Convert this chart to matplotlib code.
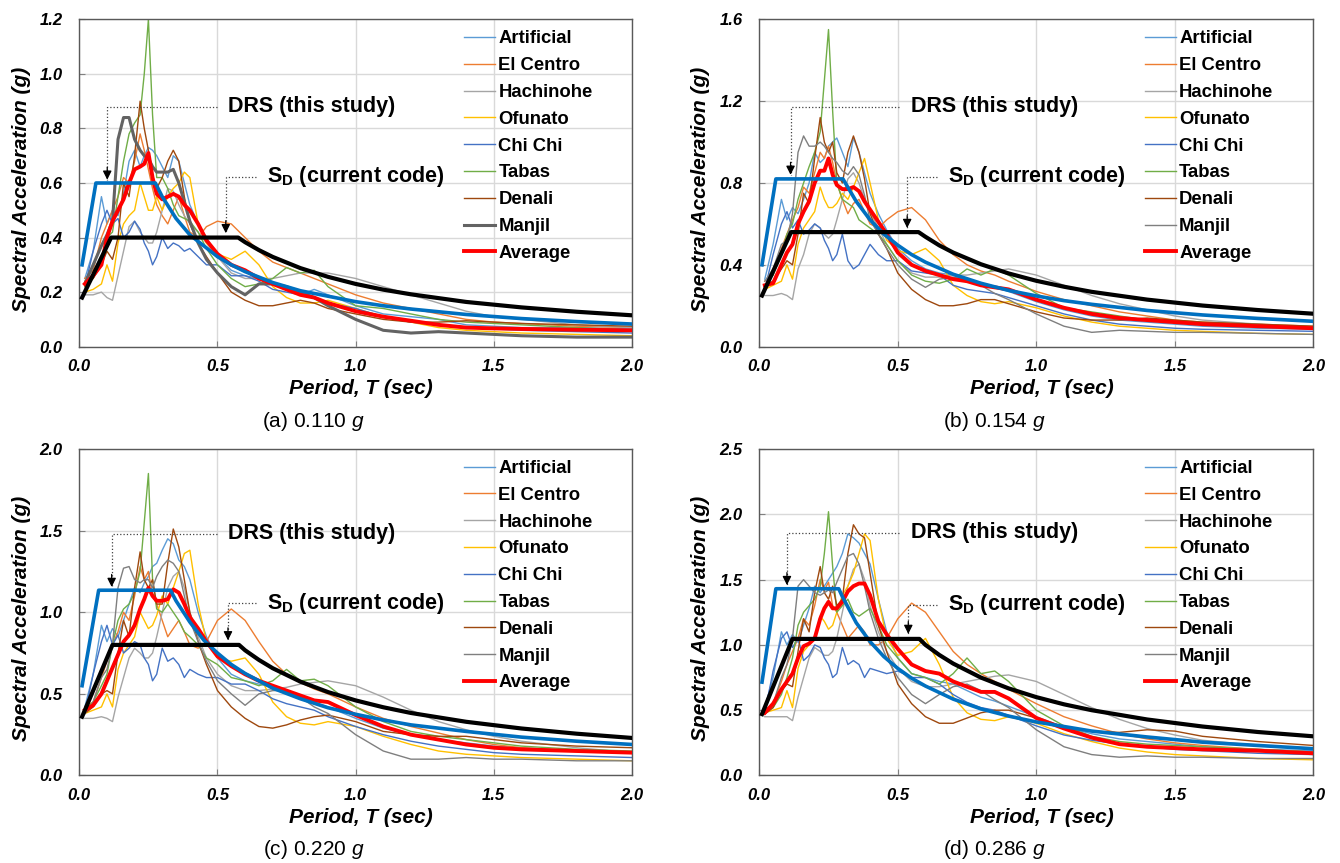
import matplotlib
matplotlib.use("Agg")
import matplotlib.pyplot as plt
from matplotlib.ticker import MultipleLocator, FormatStrFormatter

plt.rcParams['font.family'] = ['Liberation Sans', 'DejaVu Sans']
plt.rcParams['mathtext.fontset'] = 'custom'
plt.rcParams['mathtext.rm'] = 'Liberation Sans'
plt.rcParams['mathtext.it'] = 'Liberation Sans:italic'
plt.rcParams['mathtext.bf'] = 'Liberation Sans:bold'

# period grid shared by all ground-motion spectra (sec)
period = [0.02, 0.05, 0.08, 0.10, 0.12, 0.14, 0.16, 0.18, 0.20, 0.22,
          0.235, 0.25, 0.265, 0.28, 0.30, 0.32, 0.34, 0.36, 0.38, 0.40,
          0.43, 0.46, 0.50, 0.55, 0.60, 0.65, 0.70, 0.75, 0.80, 0.85,
          0.90, 1.00, 1.10, 1.20, 1.30, 1.40, 1.50, 1.60, 1.80, 2.00]

record_names = ['Artificial', 'El Centro', 'Hachinohe', 'Ofunato',
                'Chi Chi', 'Tabas', 'Denali', 'Manjil']

# ---- (a) 0.110 g ----
artificial_a = [0.25, 0.35, 0.55, 0.45, 0.50, 0.48, 0.56, 0.68, 0.72, 0.66, 0.70, 0.73, 0.72, 0.70, 0.66, 0.62, 0.70, 0.68, 0.60, 0.52,
                0.45, 0.40, 0.33, 0.28, 0.26, 0.25, 0.23, 0.21, 0.19, 0.21, 0.19, 0.15, 0.12, 0.11, 0.10, 0.08, 0.075, 0.07, 0.07, 0.065]
elcentro_a = [0.25, 0.28, 0.40, 0.45, 0.50, 0.55, 0.62, 0.60, 0.68, 0.78, 0.72, 0.65, 0.58, 0.52, 0.48, 0.45, 0.50, 0.55, 0.48, 0.42,
              0.40, 0.44, 0.46, 0.45, 0.40, 0.35, 0.31, 0.29, 0.27, 0.25, 0.23, 0.19, 0.16, 0.14, 0.12, 0.10, 0.09, 0.085, 0.075, 0.07]
hachinohe_a = [0.19, 0.19, 0.20, 0.18, 0.17, 0.26, 0.35, 0.44, 0.46, 0.42, 0.40, 0.38, 0.38, 0.42, 0.50, 0.58, 0.57, 0.52, 0.48, 0.45,
               0.42, 0.38, 0.33, 0.27, 0.25, 0.25, 0.25, 0.26, 0.27, 0.27, 0.27, 0.25, 0.22, 0.19, 0.16, 0.13, 0.11, 0.10, 0.08, 0.07]
ofunato_a = [0.20, 0.21, 0.23, 0.30, 0.24, 0.38, 0.45, 0.48, 0.50, 0.60, 0.55, 0.50, 0.50, 0.55, 0.50, 0.55, 0.58, 0.60, 0.64, 0.62,
             0.45, 0.38, 0.34, 0.32, 0.35, 0.30, 0.22, 0.18, 0.16, 0.16, 0.17, 0.14, 0.11, 0.09, 0.07, 0.06, 0.055, 0.05, 0.045, 0.04]
chichi_a = [0.22, 0.35, 0.45, 0.50, 0.45, 0.47, 0.40, 0.42, 0.46, 0.43, 0.38, 0.35, 0.30, 0.33, 0.40, 0.36, 0.38, 0.37, 0.35, 0.36,
            0.33, 0.30, 0.30, 0.26, 0.26, 0.24, 0.21, 0.20, 0.19, 0.18, 0.16, 0.14, 0.11, 0.09, 0.08, 0.07, 0.065, 0.06, 0.055, 0.05]
tabas_a = [0.22, 0.25, 0.32, 0.40, 0.42, 0.55, 0.68, 0.78, 0.82, 0.85, 1.00, 1.20, 0.85, 0.62, 0.62, 0.58, 0.52, 0.48, 0.47, 0.46,
           0.42, 0.36, 0.30, 0.25, 0.22, 0.23, 0.25, 0.29, 0.27, 0.28, 0.22, 0.15, 0.14, 0.12, 0.10, 0.09, 0.085, 0.08, 0.07, 0.06]
denali_a = [0.24, 0.25, 0.30, 0.35, 0.32, 0.40, 0.60, 0.55, 0.70, 0.90, 0.80, 0.72, 0.60, 0.58, 0.62, 0.68, 0.72, 0.68, 0.55, 0.45,
            0.38, 0.33, 0.27, 0.20, 0.17, 0.15, 0.15, 0.16, 0.17, 0.16, 0.14, 0.12, 0.10, 0.09, 0.09, 0.095, 0.09, 0.085, 0.08, 0.075]
manjil_a = [0.23, 0.30, 0.37, 0.41, 0.46, 0.76, 0.84, 0.84, 0.76, 0.72, 0.70, 0.69, 0.66, 0.64, 0.64, 0.64, 0.65, 0.60, 0.53, 0.46,
            0.38, 0.32, 0.27, 0.22, 0.19, 0.23, 0.23, 0.22, 0.20, 0.18, 0.15, 0.10, 0.06, 0.05, 0.055, 0.05, 0.045, 0.04, 0.035, 0.035]
average_a = [0.23, 0.26, 0.30, 0.40, 0.46, 0.50, 0.54, 0.60, 0.65, 0.66, 0.67, 0.71, 0.62, 0.56, 0.54, 0.55, 0.56, 0.55, 0.52, 0.50,
             0.45, 0.39, 0.34, 0.30, 0.28, 0.25, 0.23, 0.21, 0.19, 0.18, 0.16, 0.13, 0.11, 0.095, 0.08, 0.07, 0.067, 0.065, 0.062, 0.06]
drs_t_a = [0.01, 0.06, 0.275, 0.30, 0.35, 0.40, 0.45, 0.50, 0.55, 0.60, 0.70, 0.80, 0.90, 1.00, 1.10, 1.20, 1.40, 1.60, 1.80, 2.00]
drs_sa_a = [0.30, 0.60, 0.60, 0.55, 0.47, 0.41, 0.37, 0.33, 0.30, 0.275, 0.235, 0.205, 0.185, 0.165, 0.15, 0.138, 0.118, 0.103, 0.092, 0.083]
sd_t_a = [0.01, 0.115, 0.575, 0.60, 0.65, 0.70, 0.80, 0.90, 1.00, 1.10, 1.20, 1.40, 1.60, 1.80, 2.00]
sd_sa_a = [0.18, 0.40, 0.40, 0.383, 0.354, 0.329, 0.288, 0.256, 0.23, 0.209, 0.192, 0.164, 0.144, 0.128, 0.115]

# ---- (b) 0.154 g ----
artificial_b = [0.33, 0.50, 0.72, 0.62, 0.68, 0.65, 0.72, 0.80, 0.95, 0.90, 0.92, 0.98, 1.00, 1.02, 0.95, 0.88, 1.02, 0.95, 0.85, 0.75,
                0.65, 0.57, 0.48, 0.42, 0.38, 0.36, 0.35, 0.32, 0.30, 0.29, 0.27, 0.22, 0.18, 0.15, 0.13, 0.12, 0.11, 0.10, 0.09, 0.085]
elcentro_b = [0.32, 0.35, 0.48, 0.55, 0.62, 0.68, 0.78, 0.75, 0.85, 0.95, 0.92, 0.98, 0.90, 0.80, 0.72, 0.65, 0.70, 0.72, 0.66, 0.60,
              0.58, 0.62, 0.66, 0.68, 0.62, 0.52, 0.45, 0.40, 0.37, 0.35, 0.32, 0.27, 0.23, 0.20, 0.17, 0.15, 0.13, 0.12, 0.11, 0.10]
hachinohe_b = [0.25, 0.25, 0.26, 0.25, 0.23, 0.38, 0.45, 0.55, 0.60, 0.58, 0.55, 0.53, 0.55, 0.62, 0.72, 0.82, 0.85, 0.80, 0.72, 0.66,
               0.58, 0.50, 0.42, 0.36, 0.34, 0.34, 0.35, 0.35, 0.36, 0.37, 0.38, 0.35, 0.30, 0.25, 0.21, 0.18, 0.15, 0.13, 0.11, 0.09]
ofunato_b = [0.28, 0.30, 0.32, 0.40, 0.33, 0.50, 0.58, 0.62, 0.66, 0.78, 0.72, 0.68, 0.68, 0.70, 0.75, 0.72, 0.78, 0.85, 0.92, 0.80,
             0.62, 0.52, 0.47, 0.45, 0.48, 0.42, 0.30, 0.25, 0.22, 0.21, 0.22, 0.19, 0.15, 0.12, 0.10, 0.09, 0.08, 0.075, 0.065, 0.06]
chichi_b = [0.28, 0.45, 0.60, 0.66, 0.58, 0.62, 0.55, 0.57, 0.60, 0.58, 0.52, 0.48, 0.42, 0.45, 0.55, 0.42, 0.38, 0.40, 0.45, 0.50,
            0.45, 0.42, 0.42, 0.37, 0.36, 0.35, 0.30, 0.28, 0.27, 0.26, 0.24, 0.20, 0.16, 0.13, 0.11, 0.10, 0.09, 0.085, 0.08, 0.075]
tabas_b = [0.30, 0.35, 0.45, 0.55, 0.60, 0.72, 0.80, 0.88, 0.95, 1.05, 1.30, 1.55, 1.15, 0.80, 0.72, 0.70, 0.68, 0.62, 0.60, 0.58,
           0.55, 0.50, 0.42, 0.35, 0.32, 0.31, 0.33, 0.38, 0.35, 0.38, 0.35, 0.26, 0.19, 0.17, 0.15, 0.13, 0.12, 0.11, 0.10, 0.09]
denali_b = [0.30, 0.32, 0.38, 0.42, 0.40, 0.55, 0.75, 0.70, 0.92, 1.12, 1.00, 0.95, 1.00, 0.85, 0.80, 0.95, 1.03, 0.95, 0.82, 0.65,
            0.55, 0.48, 0.36, 0.28, 0.23, 0.20, 0.20, 0.21, 0.23, 0.23, 0.21, 0.17, 0.14, 0.13, 0.13, 0.14, 0.13, 0.12, 0.11, 0.10]
manjil_b = [0.32, 0.38, 0.50, 0.52, 0.65, 0.95, 1.03, 0.98, 0.98, 1.00, 0.98, 0.95, 0.92, 0.90, 0.86, 0.84, 0.88, 0.84, 0.74, 0.62,
            0.55, 0.48, 0.40, 0.33, 0.29, 0.33, 0.34, 0.33, 0.30, 0.26, 0.23, 0.16, 0.10, 0.07, 0.08, 0.075, 0.07, 0.07, 0.065, 0.06]
average_b = [0.30, 0.31, 0.40, 0.46, 0.50, 0.60, 0.66, 0.71, 0.80, 0.86, 0.86, 0.92, 0.84, 0.79, 0.77, 0.77, 0.78, 0.76, 0.71, 0.67,
             0.61, 0.55, 0.46, 0.40, 0.37, 0.35, 0.33, 0.32, 0.30, 0.29, 0.28, 0.23, 0.19, 0.16, 0.14, 0.13, 0.12, 0.11, 0.10, 0.09]
drs_t_b = [0.01, 0.06, 0.302, 0.35, 0.40, 0.45, 0.50, 0.55, 0.60, 0.70, 0.80, 0.90, 1.00, 1.10, 1.20, 1.40, 1.60, 1.80, 2.00]
drs_sa_b = [0.40, 0.82, 0.82, 0.71, 0.62, 0.55, 0.496, 0.45, 0.413, 0.354, 0.31, 0.275, 0.248, 0.225, 0.207, 0.177, 0.155, 0.138, 0.124]
sd_t_b = [0.01, 0.115, 0.575, 0.60, 0.65, 0.70, 0.80, 0.90, 1.00, 1.10, 1.20, 1.40, 1.60, 1.80, 2.00]
sd_sa_b = [0.25, 0.56, 0.56, 0.537, 0.495, 0.46, 0.403, 0.358, 0.322, 0.293, 0.268, 0.23, 0.201, 0.179, 0.161]

# ---- (c) 0.220 g ----
artificial_c = [0.42, 0.62, 0.92, 0.82, 0.90, 0.85, 0.95, 1.05, 1.15, 1.12, 1.18, 1.22, 1.28, 1.30, 1.38, 1.45, 1.42, 1.32, 1.28, 1.20,
                1.00, 0.85, 0.72, 0.62, 0.58, 0.56, 0.54, 0.50, 0.47, 0.45, 0.42, 0.35, 0.29, 0.25, 0.22, 0.20, 0.18, 0.17, 0.15, 0.14]
elcentro_c = [0.42, 0.45, 0.60, 0.70, 0.80, 0.88, 1.00, 0.95, 1.10, 1.28, 1.20, 1.25, 1.10, 1.05, 0.95, 0.85, 0.90, 0.95, 0.88, 0.80,
              0.78, 0.82, 0.95, 1.02, 0.95, 0.82, 0.70, 0.62, 0.57, 0.53, 0.50, 0.42, 0.35, 0.30, 0.26, 0.22, 0.19, 0.17, 0.15, 0.14]
hachinohe_c = [0.35, 0.35, 0.36, 0.35, 0.33, 0.48, 0.60, 0.72, 0.78, 0.75, 0.72, 0.72, 0.75, 0.85, 1.00, 1.15, 1.22, 1.25, 1.15, 1.00,
               0.85, 0.72, 0.62, 0.55, 0.52, 0.52, 0.53, 0.54, 0.56, 0.57, 0.58, 0.55, 0.48, 0.40, 0.33, 0.28, 0.24, 0.21, 0.17, 0.14]
ofunato_c = [0.38, 0.40, 0.42, 0.50, 0.42, 0.65, 0.75, 0.80, 0.85, 1.00, 0.95, 0.90, 0.92, 0.98, 1.10, 1.05, 1.15, 1.25, 1.36, 1.38,
             1.05, 0.82, 0.72, 0.70, 0.72, 0.62, 0.45, 0.36, 0.32, 0.31, 0.33, 0.30, 0.24, 0.19, 0.15, 0.13, 0.12, 0.11, 0.10, 0.09]
chichi_c = [0.38, 0.62, 0.82, 0.92, 0.80, 0.86, 0.75, 0.78, 0.82, 0.80, 0.72, 0.68, 0.58, 0.62, 0.78, 0.70, 0.72, 0.68, 0.60, 0.65,
            0.62, 0.60, 0.60, 0.56, 0.56, 0.52, 0.47, 0.44, 0.42, 0.40, 0.36, 0.30, 0.25, 0.21, 0.18, 0.16, 0.14, 0.13, 0.12, 0.11]
tabas_c = [0.40, 0.45, 0.55, 0.62, 0.80, 0.95, 1.02, 1.05, 1.12, 1.25, 1.55, 1.85, 1.20, 1.02, 1.00, 1.05, 1.00, 0.95, 0.88, 0.85,
           0.80, 0.72, 0.68, 0.60, 0.58, 0.55, 0.58, 0.65, 0.58, 0.59, 0.55, 0.42, 0.33, 0.27, 0.24, 0.22, 0.20, 0.18, 0.16, 0.15]
denali_c = [0.38, 0.42, 0.50, 0.52, 0.50, 0.75, 0.95, 0.85, 1.15, 1.37, 1.20, 1.15, 1.20, 1.05, 1.05, 1.30, 1.51, 1.40, 1.20, 1.00,
            0.82, 0.68, 0.52, 0.42, 0.35, 0.30, 0.29, 0.31, 0.34, 0.36, 0.37, 0.33, 0.27, 0.25, 0.24, 0.24, 0.22, 0.20, 0.18, 0.17]
manjil_c = [0.38, 0.45, 0.60, 0.65, 0.80, 1.15, 1.27, 1.28, 1.20, 1.18, 1.20, 1.20, 1.15, 1.22, 1.28, 1.32, 1.30, 1.25, 1.10, 0.95,
            0.82, 0.70, 0.58, 0.50, 0.43, 0.50, 0.52, 0.52, 0.48, 0.42, 0.38, 0.25, 0.15, 0.10, 0.10, 0.11, 0.10, 0.10, 0.09, 0.09]
average_c = [0.40, 0.43, 0.50, 0.58, 0.66, 0.74, 0.82, 0.86, 0.92, 1.02, 1.08, 1.15, 1.10, 1.07, 1.07, 1.08, 1.14, 1.12, 1.05, 0.97,
             0.90, 0.82, 0.73, 0.67, 0.62, 0.58, 0.55, 0.52, 0.49, 0.46, 0.45, 0.37, 0.30, 0.25, 0.22, 0.19, 0.17, 0.16, 0.15, 0.14]
drs_t_c = [0.01, 0.07, 0.33, 0.35, 0.40, 0.45, 0.50, 0.55, 0.60, 0.70, 0.80, 0.90, 1.00, 1.10, 1.20, 1.40, 1.60, 1.80, 2.00]
drs_sa_c = [0.55, 1.135, 1.135, 1.07, 0.94, 0.83, 0.75, 0.68, 0.625, 0.535, 0.47, 0.415, 0.375, 0.34, 0.31, 0.27, 0.235, 0.21, 0.19]
sd_t_c = [0.01, 0.12, 0.578, 0.60, 0.65, 0.70, 0.80, 0.90, 1.00, 1.10, 1.20, 1.40, 1.60, 1.80, 2.00]
sd_sa_c = [0.36, 0.80, 0.80, 0.767, 0.708, 0.657, 0.575, 0.511, 0.46, 0.418, 0.383, 0.329, 0.288, 0.256, 0.23]

# ---- (d) 0.286 g ----
artificial_d = [0.52, 0.75, 1.10, 1.00, 1.08, 1.02, 1.15, 1.28, 1.45, 1.40, 1.45, 1.50, 1.55, 1.60, 1.70, 1.85, 1.82, 1.78, 1.70, 1.62,
                1.35, 1.10, 0.90, 0.78, 0.75, 0.72, 0.70, 0.65, 0.60, 0.57, 0.53, 0.45, 0.37, 0.32, 0.28, 0.26, 0.24, 0.22, 0.20, 0.19]
elcentro_d = [0.50, 0.55, 0.72, 0.85, 0.95, 1.05, 1.20, 1.15, 1.30, 1.50, 1.42, 1.48, 1.30, 1.25, 1.15, 1.05, 1.10, 1.15, 1.10, 1.00,
              1.00, 1.05, 1.20, 1.32, 1.25, 1.10, 0.95, 0.85, 0.78, 0.72, 0.66, 0.55, 0.45, 0.38, 0.32, 0.28, 0.25, 0.23, 0.20, 0.18]
hachinohe_d = [0.45, 0.45, 0.45, 0.45, 0.42, 0.60, 0.75, 0.90, 0.98, 0.95, 0.92, 0.92, 0.95, 1.05, 1.25, 1.45, 1.58, 1.62, 1.50, 1.30,
               1.10, 0.95, 0.82, 0.72, 0.68, 0.68, 0.70, 0.72, 0.74, 0.76, 0.77, 0.72, 0.62, 0.52, 0.43, 0.36, 0.31, 0.27, 0.23, 0.20]
ofunato_d = [0.48, 0.50, 0.52, 0.65, 0.52, 0.82, 0.95, 1.00, 1.05, 1.22, 1.18, 1.12, 1.15, 1.25, 1.38, 1.45, 1.55, 1.70, 1.85, 1.80,
             1.35, 1.05, 0.92, 0.95, 1.05, 0.85, 0.60, 0.48, 0.43, 0.42, 0.45, 0.40, 0.32, 0.26, 0.21, 0.18, 0.16, 0.15, 0.13, 0.12]
chichi_d = [0.48, 0.80, 1.05, 1.10, 0.98, 1.05, 0.88, 0.92, 1.00, 0.98, 0.90, 0.85, 0.75, 0.78, 0.98, 0.85, 0.88, 0.85, 0.75, 0.82,
            0.80, 0.78, 0.80, 0.75, 0.75, 0.70, 0.62, 0.56, 0.52, 0.50, 0.46, 0.38, 0.31, 0.27, 0.24, 0.22, 0.20, 0.19, 0.17, 0.16]
tabas_d = [0.48, 0.52, 0.62, 0.75, 0.90, 1.15, 1.25, 1.30, 1.35, 1.45, 1.70, 2.02, 1.60, 1.25, 1.30, 1.35, 1.25, 1.22, 1.25, 1.28,
           1.15, 1.00, 0.90, 0.78, 0.75, 0.70, 0.78, 0.90, 0.78, 0.80, 0.72, 0.50, 0.38, 0.30, 0.26, 0.24, 0.23, 0.22, 0.20, 0.18]
denali_d = [0.47, 0.52, 0.65, 0.70, 0.68, 0.95, 1.20, 1.10, 1.40, 1.60, 1.40, 1.35, 1.45, 1.30, 1.35, 1.70, 1.92, 1.85, 1.82, 1.55,
            1.15, 0.95, 0.70, 0.55, 0.45, 0.40, 0.40, 0.44, 0.48, 0.50, 0.50, 0.44, 0.36, 0.34, 0.33, 0.35, 0.34, 0.30, 0.26, 0.23]
manjil_d = [0.47, 0.55, 0.75, 0.85, 1.05, 1.45, 1.50, 1.45, 1.40, 1.38, 1.40, 1.42, 1.40, 1.48, 1.58, 1.68, 1.70, 1.62, 1.45, 1.25,
            1.05, 0.90, 0.75, 0.62, 0.55, 0.62, 0.68, 0.70, 0.65, 0.58, 0.52, 0.35, 0.22, 0.16, 0.14, 0.15, 0.14, 0.14, 0.13, 0.13]
average_d = [0.48, 0.55, 0.66, 0.72, 0.78, 0.90, 0.99, 1.01, 1.05, 1.20, 1.28, 1.33, 1.28, 1.28, 1.33, 1.41, 1.45, 1.47, 1.47, 1.38,
             1.18, 1.08, 0.97, 0.85, 0.80, 0.78, 0.72, 0.68, 0.64, 0.64, 0.59, 0.44, 0.36, 0.29, 0.24, 0.22, 0.21, 0.20, 0.19, 0.17]
drs_t_d = [0.01, 0.06, 0.287, 0.30, 0.35, 0.40, 0.45, 0.50, 0.55, 0.60, 0.70, 0.80, 0.90, 1.00, 1.10, 1.20, 1.40, 1.60, 1.80, 2.00]
drs_sa_d = [0.715, 1.43, 1.43, 1.37, 1.17, 1.025, 0.91, 0.82, 0.745, 0.685, 0.585, 0.51, 0.455, 0.41, 0.375, 0.34, 0.295, 0.255, 0.23, 0.205]
sd_t_d = [0.01, 0.12, 0.578, 0.60, 0.65, 0.70, 0.80, 0.90, 1.00, 1.10, 1.20, 1.40, 1.60, 1.80, 2.00]
sd_sa_d = [0.47, 1.046, 1.046, 1.0, 0.923, 0.857, 0.75, 0.667, 0.60, 0.545, 0.50, 0.429, 0.375, 0.333, 0.30]

record_colors = ['#5B9BD5', '#ED7D31', '#A5A5A5', '#FFC000',
                 '#4472C4', '#70AD47', '#9E480E', '#7F7F7F']

panels = [
    dict(pos=[0.0592, 0.5983, 0.4124, 0.3793], ymax=1.2, ystep=0.2, cap='(a) 0.110 $\\mathit{g}$',
         recs=[artificial_a, elcentro_a, hachinohe_a, ofunato_a, chichi_a, tabas_a, denali_a, manjil_a],
         avg=average_a, drs=(drs_t_a, drs_sa_a), sd=(sd_t_a, sd_sa_a), heavy_manjil=True,
         drs_txt=(0.2685, 0.733), drs_arrow=(0.101, 0.612), sd_txt=(0.339, 0.519), sd_arrow=(0.530, 0.416)),
    dict(pos=[0.5666, 0.5983, 0.4135, 0.3793], ymax=1.6, ystep=0.4, cap='(b) 0.154 $\\mathit{g}$',
         recs=[artificial_b, elcentro_b, hachinohe_b, ofunato_b, chichi_b, tabas_b, denali_b, manjil_b],
         avg=average_b, drs=(drs_t_b, drs_sa_b), sd=(sd_t_b, sd_sa_b), heavy_manjil=False,
         drs_txt=(0.273, 0.733), drs_arrow=(0.113, 0.84), sd_txt=(0.341, 0.519), sd_arrow=(0.534, 0.58)),
    dict(pos=[0.0592, 0.1014, 0.4124, 0.3783], ymax=2.0, ystep=0.5, cap='(c) 0.220 $\\mathit{g}$',
         recs=[artificial_c, elcentro_c, hachinohe_c, ofunato_c, chichi_c, tabas_c, denali_c, manjil_c],
         avg=average_c, drs=(drs_t_c, drs_sa_c), sd=(sd_t_c, sd_sa_c), heavy_manjil=False,
         drs_txt=(0.2685, 0.740), drs_arrow=(0.117, 1.155), sd_txt=(0.339, 0.527), sd_arrow=(0.538, 0.828)),
    dict(pos=[0.5666, 0.1014, 0.4135, 0.3783], ymax=2.5, ystep=0.5, cap='(d) 0.286 $\\mathit{g}$',
         recs=[artificial_d, elcentro_d, hachinohe_d, ofunato_d, chichi_d, tabas_d, denali_d, manjil_d],
         avg=average_d, drs=(drs_t_d, drs_sa_d), sd=(sd_t_d, sd_sa_d), heavy_manjil=False,
         drs_txt=(0.273, 0.744), drs_arrow=(0.100, 1.458), sd_txt=(0.341, 0.523), sd_arrow=(0.538, 1.084)),
]


def callout(ax, label, txt, arrow):
    tx, ty = txt
    ax.text(tx, ty, label, transform=ax.transAxes, ha='left', va='center',
            fontsize=15.5, fontweight='bold', zorder=6)
    to_data = ax.transAxes + ax.transData.inverted()
    x0, y0 = to_data.transform((tx - 0.02, ty))
    ax.plot([x0, arrow[0], arrow[0]], [y0, y0, arrow[1]], ':', color='#404040', lw=0.9, zorder=6)
    ax.annotate('', xy=arrow, xytext=(0, 9), textcoords='offset points',
                arrowprops=dict(arrowstyle='-|>', color='black', lw=0.9,
                                mutation_scale=13, shrinkA=0, shrinkB=0), zorder=7)


fig = plt.figure(figsize=(13.4, 8.63), dpi=100)

for p in panels:
    ax = fig.add_axes(p['pos'])
    ax.set_xlim(0, 2.0)
    ax.set_ylim(0, p['ymax'])

    for name, vals, col in zip(record_names, p['recs'], record_colors):
        lw = 1.0
        if name == 'Manjil' and p['heavy_manjil']:
            col, lw = '#636363', 2.2
        ax.plot(period, vals, color=col, lw=lw, label=name, zorder=2)
    ax.plot(period, p['avg'], color='#FF0000', lw=2.8, label='Average', zorder=3)
    ax.plot(p['drs'][0], p['drs'][1], color='#0070C0', lw=2.6, zorder=4)
    ax.plot(p['sd'][0], p['sd'][1], color='black', lw=3.0, zorder=5)

    ax.xaxis.set_major_locator(MultipleLocator(0.5))
    ax.yaxis.set_major_locator(MultipleLocator(p['ystep']))
    ax.xaxis.set_major_formatter(FormatStrFormatter('%.1f'))
    ax.yaxis.set_major_formatter(FormatStrFormatter('%.1f'))
    ax.grid(True, color='#D9D9D9', lw=1.0)
    ax.set_axisbelow(True)
    ax.tick_params(axis='both', direction='in', length=4, color='#808080', labelsize=12)
    ax.tick_params(axis='y', pad=12)
    ax.tick_params(axis='x', pad=9)
    for lab in ax.get_xticklabels() + ax.get_yticklabels():
        lab.set_fontweight('bold')
        lab.set_fontstyle('italic')
    for sp in ax.spines.values():
        sp.set_color('#595959')
        sp.set_linewidth(1.0)

    ax.set_ylabel('Spectral Acceleration (g)', fontsize=15, fontweight='bold', fontstyle='italic')
    ax.yaxis.set_label_coords(-0.088, 0.48)
    ax.set_xlabel('Period, T (sec)', fontsize=15, fontweight='bold', fontstyle='italic')
    ax.xaxis.set_label_coords(0.51, -0.10)
    ax.text(0.424, -0.228, p['cap'], transform=ax.transAxes, ha='center', va='center', fontsize=15)

    ax.legend(loc='upper left', bbox_to_anchor=(0.696, 0.966), frameon=False,
              borderpad=0, borderaxespad=0, handlelength=1.66, handletextpad=0.2,
              labelspacing=0.53, prop={'weight': 'bold', 'size': 13.3})

    callout(ax, 'DRS (this study)', p['drs_txt'], p['drs_arrow'])
    callout(ax, '$\\mathbf{S}_\\mathbf{D}$ (current code)', p['sd_txt'], p['sd_arrow'])

fig.savefig('out.png', dpi=100)
